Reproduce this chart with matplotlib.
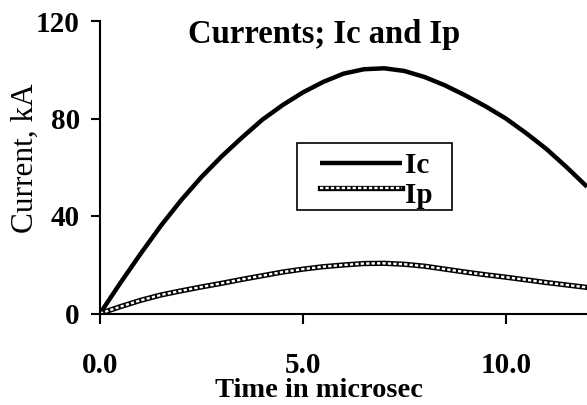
import matplotlib
matplotlib.use("Agg")
import matplotlib.pyplot as plt
from matplotlib.lines import Line2D
from matplotlib.patches import Rectangle

# time in microseconds and the two currents in kA
t = [0, 0.5, 1, 1.5, 2, 2.5, 3, 3.5, 4, 4.5, 5, 5.5, 6, 6.5, 7, 7.5,
     8, 8.5, 9, 9.5, 10, 10.5, 11, 11.5, 12]
ic = [0, 12.5, 24.5, 36, 46.5, 56, 64.5, 72.2, 79.5, 85.5, 90.7, 95, 98.4,
      100.2, 100.6, 99.5, 97, 93.6, 89.5, 85, 80, 74, 67.5, 60, 52]
ip = [0, 2.8, 5.4, 7.6, 9.3, 10.9, 12.4, 14, 15.5, 17, 18.2, 19.2, 19.9,
      20.5, 20.6, 20.2, 19.4, 18.2, 17, 15.9, 14.9, 13.8, 12.7, 11.7, 10.7]

xticks = [0, 5, 10]
xtick_labels = ['0.0', '5.0', '10.0']
yticks = [0, 40, 80, 120]

plt.rcParams['font.family'] = ['Liberation Serif', 'DejaVu Serif']

W, H = 587, 405
fig = plt.figure(figsize=(W/100, H/100), dpi=100)
ax = fig.add_axes([100/W, 1 - 313.5/H, 1 - 100/W, (313.5 - 21)/H])

ic_style = dict(color='black', lw=3.2, solid_capstyle='butt')
ring_out = dict(color='black', lw=3.8)
ring_in = dict(color='white', lw=1.7, dashes=(1.4, 0.9))

ax.plot(t, ic, **ic_style)
# chain-of-rings look for Ip: black stroke with white dashes on top
ax.plot(t, ip, **ring_out)
ax.plot(t, ip, **ring_in)

ax.set_xlim(0, 12)
ax.set_ylim(0, 120)
ax.set_xticks(xticks)
ax.set_xticklabels(xtick_labels)
ax.set_yticks(yticks)

for s in ['top', 'right']:
    ax.spines[s].set_visible(False)
for s in ['left', 'bottom']:
    ax.spines[s].set_linewidth(1.5)
ax.tick_params(axis='y', direction='out', length=6.5, width=1.5, pad=8)
ax.tick_params(axis='x', direction='out', length=7.5, width=1.5, pad=20)
for lab in ax.get_xticklabels() + ax.get_yticklabels():
    lab.set_fontsize(21)
    lab.set_fontweight('bold')

fig.text(324/W, 1 - 43/H, 'Currents; Ic and Ip', ha='center',
         va='baseline', fontsize=23.5, fontweight='bold')
fig.text(319/W, 1 - 397/H, 'Time in microsec', ha='center', va='baseline',
         fontsize=20.5, fontweight='bold')
fig.text(25/W, 1 - 158/H, 'Current, kA', ha='center', va='center',
         rotation=90, fontsize=22.5)

# legend box drawn by hand to get the tight row spacing
fig.patches.append(Rectangle((297/W, 1 - 210/H), 155/W, 67/H,
                             transform=fig.transFigure, fill=False,
                             edgecolor='black', lw=1.2))
fig.add_artist(Line2D([320/W, 402/W], [1 - 163/H] * 2,
                      transform=fig.transFigure, **ic_style))
fig.add_artist(Line2D([320/W, 402/W], [1 - 188/H] * 2,
                      transform=fig.transFigure, **ring_out))
fig.add_artist(Line2D([320/W, 402/W], [1 - 188/H] * 2,
                      transform=fig.transFigure, **ring_in))
fig.text(405/W, 1 - 173/H, 'Ic', ha='left', va='baseline',
         fontsize=21, fontweight='bold')
fig.text(405/W, 1 - 203/H, 'Ip', ha='left', va='baseline',
         fontsize=21, fontweight='bold')

fig.savefig('out.png', dpi=100)
